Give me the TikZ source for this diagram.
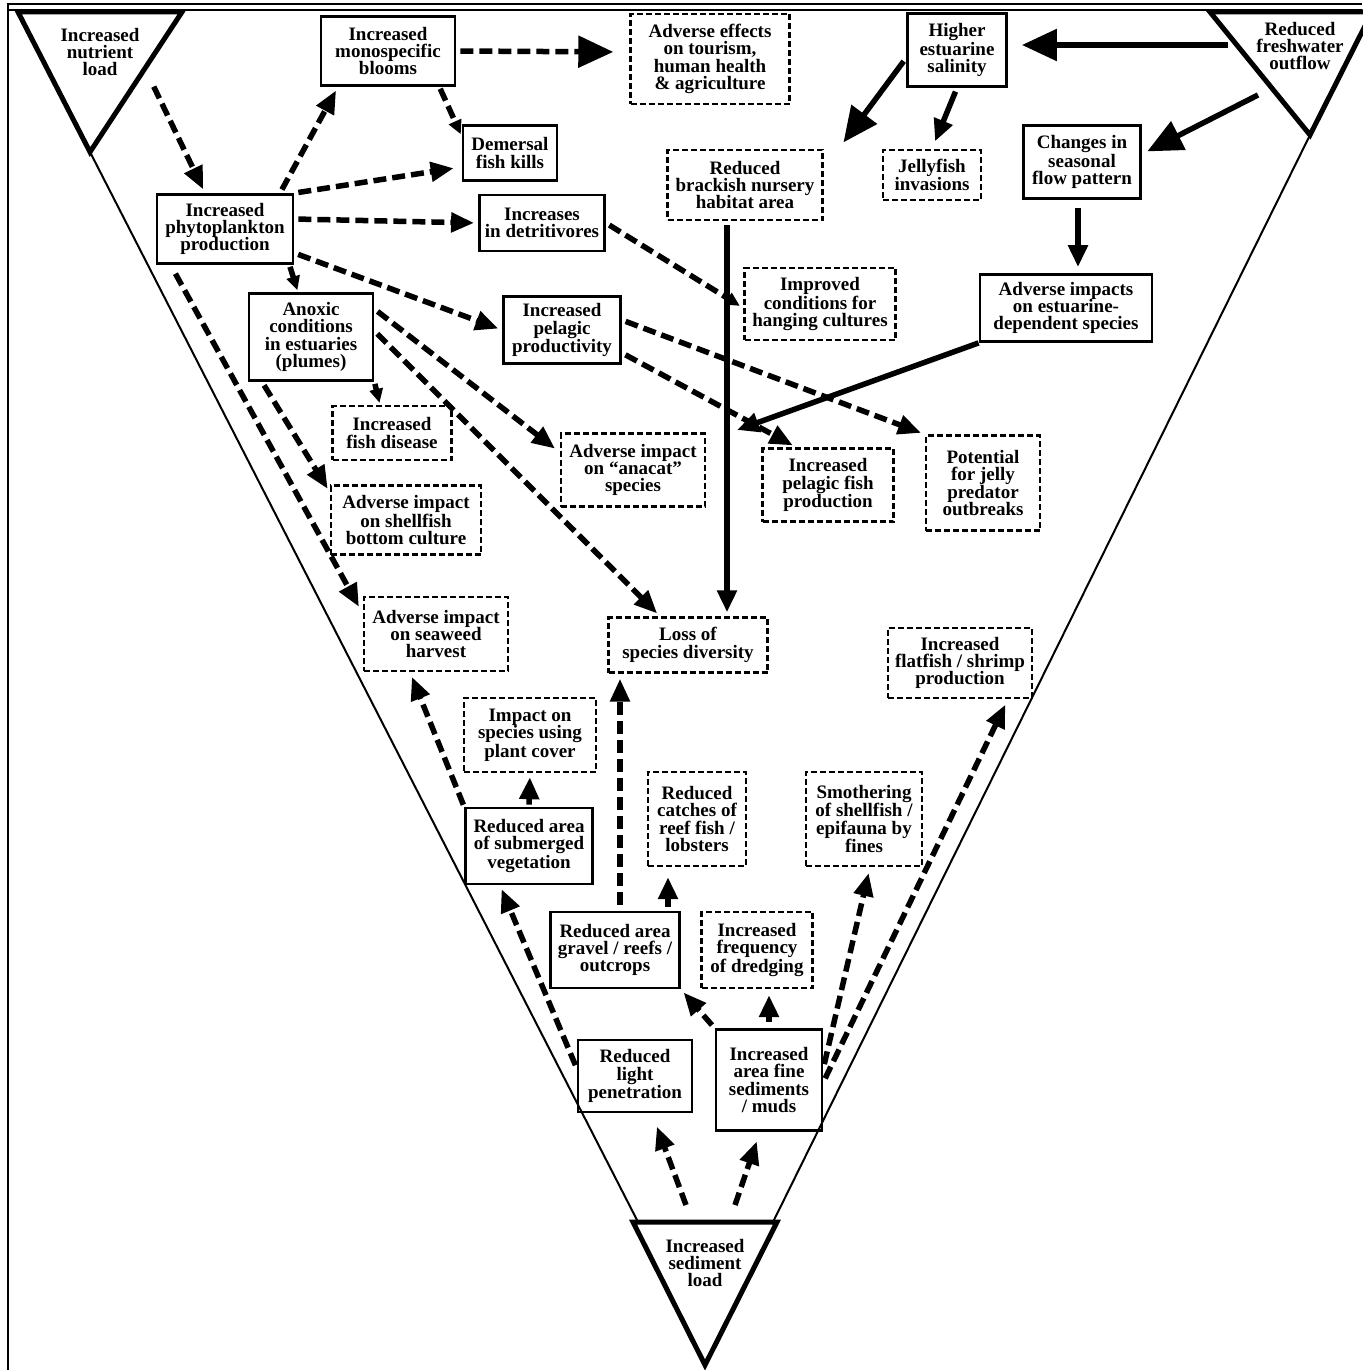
\documentclass[tikz,border=0pt]{standalone}
\usepackage{fontspec}
\setmainfont{Liberation Serif}
\usetikzlibrary{arrows.meta}

\begin{document}
\begin{tikzpicture}[x=1pt, y=-1pt,
	every node/.style={align=center, inner sep=2pt, font=\bfseries\fontsize{19}{17.3}\selectfont},
	box/.style={draw, line width=2.8pt},
	dbox/.style={draw, line width=2.4pt, dash pattern=on 6pt off 3pt},
	dasharr/.style={line width=5.5pt, dash pattern=on 13pt off 6pt, shorten <=4pt, shorten >=4pt, -{Triangle[length=23pt,width=19pt]}},
	solarr/.style={line width=5.5pt, shorten <=4pt, shorten >=4pt, -{Triangle[length=22pt,width=19pt]}},
	bighead/.style={-{Triangle[length=35pt,width=31pt]}},
	smallhead/.style={-{Triangle[length=14pt,width=13pt]}},
	tri/.style={line width=5pt, line join=miter},
	bigside/.style={line width=2pt}]
		\useasboundingbox (0,0) rectangle (1362,1370);
		\draw[line width=1.5pt] (8,1370) -- (8,4) -- (1362,4);
		\draw[line width=1.5pt] (8,10) -- (1362,10);

		% corner triangles and sides
		\draw[tri] (18,12) -- (182,12) -- (90,152) -- cycle;
		\draw[tri] (1210,12) -- (1372,12) -- (1310,135) -- cycle;
		\draw[tri] (633,1222) -- (777,1222) -- (705,1365) -- cycle;
		\draw[bigside] (90,152) -- (638,1222);
		\draw[bigside] (1310,135) -- (773,1222);

		\node (nutrient) at (100,52) {Increased\\nutrient\\load};
		\node (fresh) at (1300,46) {Reduced\\freshwater\\outflow};
		\node (sediment) at (705,1263) {Increased\\sediment\\load};
		\coordinate (nutout) at (152,83);
		\coordinate (freshl) at (1228,45);
		\coordinate (freshb) at (1258,95);
		\coordinate (sedl) at (686,1205);
		\coordinate (sedr) at (735,1205);
		\coordinate (join) at (737,430);

		% solid boxes
		\node[box, minimum width=134, minimum height=69] (mono) at (388,51) {Increased\\monospecific\\blooms};
		\node[box, minimum width=136, minimum height=69] (phyto) at (225,229) {Increased\\phytoplankton\\production};
		\node[box, minimum width=94, minimum height=55] (demersal) at (510,153) {Demersal\\fish kills};
		\node[box, minimum width=125, minimum height=56] (detrit) at (542,223) {Increases\\in detritivores};
		\node[box, minimum width=124, minimum height=87] (anoxic) at (311,337) {Anoxic\\conditions\\in estuaries\\(plumes)};
		\node[box, minimum width=117, minimum height=67] (pelagic) at (562,330) {Increased\\pelagic\\productivity};
		\node[box, minimum width=99, minimum height=73] (salinity) at (957,50) {Higher\\estuarine\\salinity};
		\node[box, minimum width=117, minimum height=73] (seasonal) at (1082,162) {Changes in\\seasonal\\flow pattern};
		\node[box, minimum width=172, minimum height=67] (estdep) at (1066,308) {Adverse impacts\\on estuarine-\\dependent species};
		\node[box, minimum width=127, minimum height=76] (subveg) at (529,846) {Reduced area\\of submerged\\vegetation};
		\node[box, minimum width=129, minimum height=76] (gravel) at (615,950) {Reduced area\\gravel / reefs /\\outcrops};
		\node[box, minimum width=114, minimum height=72] (light) at (635,1076) {Reduced\\light\\penetration};
		\node[box, minimum width=106, minimum height=101] (fine) at (769,1080) {Increased\\area fine\\sediments\\/ muds};

		% dashed boxes
		\node[dbox, minimum width=159, minimum height=90] (tourism) at (710,59) {Adverse effects\\on tourism,\\human health\\\& agriculture};
		\node[dbox, minimum width=155, minimum height=70] (nursery) at (745,185) {Reduced\\brackish nursery\\habitat area};
		\node[dbox, minimum width=98, minimum height=50] (jelly) at (932,175) {Jellyfish\\invasions};
		\node[dbox, minimum width=151, minimum height=72] (improved) at (820,304) {Improved\\conditions for\\hanging cultures};
		\node[dbox, minimum width=119, minimum height=54] (disease) at (392,433) {Increased\\fish disease};
		\node[dbox, minimum width=150, minimum height=69] (shellfish) at (406,520) {Adverse impact\\on shellfish\\bottom culture};
		\node[dbox, minimum width=144, minimum height=73] (anacat) at (633,470) {Adverse impact\\on ``anacat''\\species};
		\node[dbox, minimum width=131, minimum height=73] (pelfish) at (828,485) {Increased\\pelagic fish\\production};
		\node[dbox, minimum width=114, minimum height=95] (jellypred) at (983,483) {Potential\\for jelly\\predator\\outbreaks};
		\node[dbox, minimum width=144, minimum height=74] (seaweed) at (436,634) {Adverse impact\\on seaweed\\harvest};
		\node[dbox, minimum width=159, minimum height=55] (diversity) at (688,645) {Loss of\\species diversity};
		\node[dbox, minimum width=144, minimum height=70] (flatfish) at (960,663) {Increased\\flatfish / shrimp\\production};
		\node[dbox, minimum width=132, minimum height=74] (plantcover) at (530,735) {Impact on\\species using\\plant cover};
		\node[dbox, minimum width=98, minimum height=94] (reef) at (697,819) {Reduced\\catches of\\reef fish /\\lobsters};
		\node[dbox, minimum width=116, minimum height=94] (smother) at (864,819) {Smothering\\of shellfish /\\epifauna by\\fines};
		\node[dbox, minimum width=111, minimum height=76] (dredging) at (757,950) {Increased\\frequency\\of dredging};

		% nutrient side
		\draw[dasharr] (nutout) to ([xshift=-20pt]phyto.north);
		\draw[dasharr] ([xshift=55pt]phyto.north) to ([xshift=-50pt]mono.south);
		\draw[dasharr, bighead, shorten >=16pt] (mono.east) to ([yshift=7pt]tourism.west);
		\draw[dasharr, smallhead, shorten <=2pt, shorten >=2pt] ([xshift=-17pt]mono.south east) to ([yshift=-12pt]demersal.north west);
		\draw[dasharr, shorten >=8pt] (phyto.north east) to ([yshift=-14pt]demersal.west);
		\draw[dasharr] ([yshift=10pt]phyto.east) to (detrit.west);
		\draw[dasharr, smallhead, shorten <=2pt, shorten >=2pt] ([xshift=-5pt]phyto.south east) to ([xshift=-13pt]anoxic.north);
		\draw[dasharr] ([yshift=-24pt]phyto.east) to (pelagic.west);
		\draw[dasharr, smallhead] (detrit.east) to ([yshift=-4pt]improved.west);
		\draw[dasharr, smallhead, shorten <=2pt, shorten >=2pt] (anoxic.south east) to ([xshift=-12pt]disease.north);
		\draw[dasharr] ([xshift=-49pt]anoxic.south) to ([yshift=-8pt]shellfish.north west);
		\draw[dasharr, shorten <=10pt, shorten >=8pt] ([xshift=15pt]phyto.south west) to ([yshift=-18pt]seaweed.north west);
		\draw[dasharr, shorten >=6pt] ([yshift=28pt]anoxic.east) to ([yshift=-20pt]anacat.north west);
		\draw[dasharr] ([yshift=6pt]anoxic.east) to ([xshift=-28pt]diversity.north);
		\draw[dasharr] ([yshift=12pt]pelagic.south east) to ([xshift=35pt]pelfish.north west);
		\draw[dasharr] ([yshift=10pt]pelagic.east) to (jellypred.north west);

		% freshwater side
		\draw[solarr, bighead, shorten <=0pt] (freshl) to ([xshift=10pt,yshift=5pt]salinity.east);
		\draw[solarr, bighead, shorten >=8pt] ([yshift=-8pt]salinity.west) to ([xshift=15pt]nursery.north east);
		\draw[solarr, shorten >=8pt] (salinity.south) to (jelly.north);
		\draw[solarr, bighead, shorten <=0pt, shorten >=6pt] (freshb) to ([yshift=-30pt]seasonal.north east);
		\draw[solarr, shorten <=8pt, shorten >=6pt] ([xshift=-4pt]seasonal.south) to ([xshift=12pt]estdep.north);
		\draw[solarr] ([xshift=-18pt]nursery.south) to ([xshift=39pt]diversity.north);
		\draw[solarr, shorten <=0pt, shorten >=0pt] (estdep.south west) to (join);

		% sediment side
		\draw[dasharr, shorten <=0pt, shorten >=14pt] (sedl) to ([xshift=17pt]light.south);
		\draw[dasharr, shorten <=0pt, shorten >=10pt] (sedr) to ([xshift=-9pt]fine.south);
		\draw[dasharr, shorten <=3pt] ([yshift=8pt]light.west) to ([xshift=-29pt]subveg.south);
		\draw[dasharr, shorten <=2pt, shorten >=5pt] (subveg.north west) to ([xshift=-26pt]seaweed.south);
		\draw[solarr, shorten <=2pt] (subveg.north) to (plantcover.south);
		\draw[dasharr, shorten <=6pt, shorten >=5pt] ([xshift=5pt]gravel.north) to ([xshift=-68pt]diversity.south);
		\draw[solarr, shorten <=4pt, shorten >=10pt] ([xshift=53pt]gravel.north) to ([xshift=-29pt]reef.south);
		\draw[dasharr] (fine.north west) to (gravel.south east);
		\draw[solarr, shorten <=6pt, shorten >=6pt] (fine.north) to ([xshift=12pt]dredging.south);
		\draw[dasharr, shorten >=6pt] ([yshift=12pt]fine.east) to ([xshift=6pt]smother.south);
		\draw[dasharr, shorten >=6pt] ([yshift=-2pt]fine.east) to ([xshift=48pt]flatfish.south);
		\end{tikzpicture}
\end{document}
